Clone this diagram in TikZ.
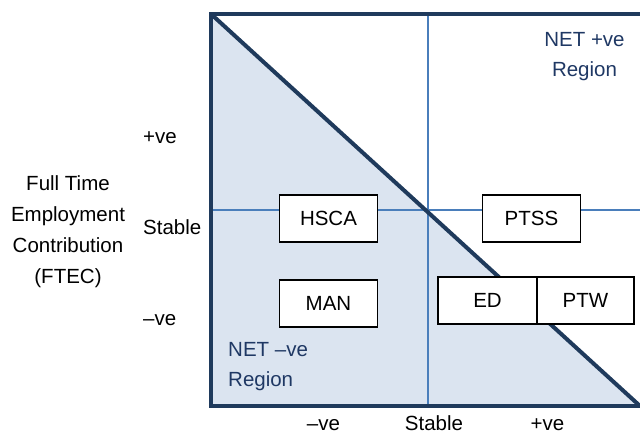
\documentclass[tikz,border=0pt]{standalone}
\usepackage{fontspec}
\setmainfont{Liberation Sans}
\definecolor{frameblue}{HTML}{1F3A5C}
\definecolor{gridblue}{HTML}{4A7EBB}
\definecolor{fillblue}{HTML}{DBE4F0}
\definecolor{textblue}{HTML}{1F3864}
\begin{document}
\begin{tikzpicture}[x=1pt,y=-1pt,
  every node/.style={font=\fontsize{20.5}{30.5}\selectfont, inner sep=0pt},
  thickline/.style={draw=frameblue, line width=4pt},
  gridline/.style={draw=gridblue, line width=2pt},
  catbox/.style={draw=black, line width=1.3pt, fill=white, minimum width=98pt, minimum height=47pt},
  regionlabel/.style={text=textblue},
  axislabel/.style={text=black}]
\useasboundingbox (0,0) rectangle (640,433);
% frame corners
\coordinate (tl) at (211,14);
\coordinate (tr) at (640,14);
\coordinate (bl) at (211,406);
\coordinate (br) at (640,406);
% grid ends
\coordinate (vtop) at (428,14);
\coordinate (vbot) at (428,406);
\coordinate (hleft) at (211,210);
\coordinate (hright) at (640,210);
% fill
\fill[fillblue] (tl) -- (bl) -- (br) -- cycle;
% grid lines
\draw[gridline] (vtop) -- (vbot);
\draw[gridline] (hleft) -- (hright);
% diagonal
\draw[thickline, line cap=round] (tl) -- (br);
% frame
\draw[thickline, line join=miter] (tr) -- (tl) -- (bl) -- (br);
% boxes
\node[catbox] (hsca) at (328.5,218.5) {HSCA};
\node[catbox] (ptss) at (531.5,218.5) {PTSS};
\node[catbox] (man) at (328.5,303.5) {MAN};
\node[catbox, minimum width=99pt] (ed) at (487.5,300.5) {ED};
\node[catbox, minimum width=97pt] (ptw) at (585.5,300.5) {PTW};
% region labels
\node[regionlabel, anchor=north, align=center] (netpos) at (584.5,32) {NET +ve\\Region};
\node[regionlabel, anchor=north west, align=left] (netneg) at (228,342) {NET –ve\\Region};
% y axis
\node[axislabel, anchor=north, align=center] (ftec) at (68,175) {Full Time\\[0.5pt]Employment\\[0.5pt]Contribution\\[0.5pt](FTEC)};
\node[axislabel, anchor=base west] (ypos) at (143,143) {+ve};
\node[axislabel, anchor=base west] (ystab) at (143,234) {Stable};
\node[axislabel, anchor=base west] (yneg) at (143,325) {–ve};
% x axis
\node[axislabel, anchor=base] (xneg) at (323.5,430) {–ve};
\node[axislabel, anchor=base] (xstab) at (434,430) {Stable};
\node[axislabel, anchor=base] (xpos) at (547.5,430) {+ve};
\end{tikzpicture}
\end{document}
